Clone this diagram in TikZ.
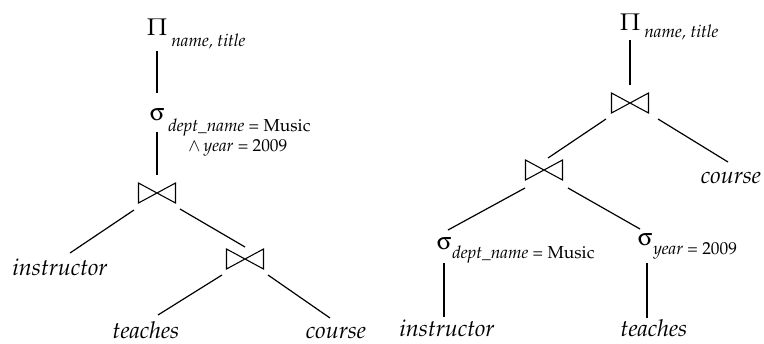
\documentclass[tikz,border=0pt]{standalone}
\usepackage[T1]{fontenc}
\usepackage{mathpazo}
\usepackage{pifont}
\newcommand{\usig}{\Pisymbol{psy}{115}}
\begin{document}
\begin{tikzpicture}[x=0.75pt,y=-0.75pt,
  edge/.style={line width=0.9pt},
  bowtie/.style={line width=0.8pt, line join=miter},
  joinnode/.style={minimum width=27.75pt, minimum height=15pt, inner sep=0pt, outer sep=0pt},
  rel/.style={anchor=base, inner sep=0pt, font=\fontsize{17.5}{20}\selectfont\itshape},
  sym/.style={anchor=base, inner sep=0pt, font=\fontsize{18}{20}\selectfont},
  sub/.style={anchor=base west, inner sep=0pt, align=left, font=\fontsize{13}{15}\selectfont}]
\useasboundingbox (0,0) rectangle (764,343);
% ---------- left tree ----------
\node[sym] (P1) at (157,35) {$\Pi$};
\node[sub] (P1s) at (171,46) {\textit{name, title}};
\node[sym] (S1) at (157,120) {\usig};
\node[sub] (S1s) at (168,151) {\textit{dept\_name} = Music\\\hspace*{15pt}$\wedge$\,\textit{year} = 2009};
\node[joinnode] (J1) at (157,193) {};
\node[rel] (I1) at (60,275) {instructor};
\node[joinnode] (J2) at (245,259) {};
\node[rel] (T1) at (146,338) {teaches};
\node[rel] (C1) at (336,338) {course};
% ---------- right tree ----------
\node[sym] (P2) at (630,30) {$\Pi$};
\node[sub] (P2s) at (644,37) {\textit{name, title}};
\node[joinnode] (J3) at (630,103) {};
\node[rel] (C2) at (731,183) {course};
\node[joinnode] (J4) at (544,170) {};
\node[sym] (S2) at (444,249) {\usig};
\node[sub] (S2s) at (452,258) {\textit{dept\_name} = Music};
\node[sym] (S3) at (645,245) {\usig};
\node[sub] (S3s) at (653,254) {\textit{year} = 2009};
\node[rel] (I2) at (447,336) {instructor};
\node[rel] (T2) at (654,336) {teaches};
% ---------- join symbols ----------
\foreach \j in {J1,J2,J3,J4}
  \draw[bowtie] (\j.south west) -- (\j.north west) -- (\j.south east) -- (\j.north east) -- cycle;
% ---------- edges ----------
\draw[edge] ([shift={(0,16)}]P1.base) -- ([shift={(0,-27)}]S1.base);
\draw[edge] ([shift={(0,12)}]S1.base) -- ([shift={(0,-18)}]J1.center);
\draw[edge] ([shift={(-4.5,7)}]J1.south west) -- ([shift={(10,-22)}]I1.base);
\draw[edge] ([shift={(4.5,6)}]J1.south east) -- ([shift={(0,-2)}]J2.north);
\draw[edge] ([shift={(-4.5,6)}]J2.south west) -- ([shift={(12,-23)}]T1.base);
\draw[edge] ([shift={(4.5,6)}]J2.south east) -- ([shift={(-6,-20)}]C1.base);
\draw[edge] ([shift={(0,10)}]P2.base) -- ([shift={(0,-8)}]J3.north);
\draw[edge] ([shift={(-5.5,6)}]J3.south west) -- ([shift={(4,-2)}]J4.north);
\draw[edge] ([shift={(9.5,6)}]J3.south east) -- ([shift={(-3,-21)}]C2.base);
\draw[edge] ([shift={(-0.5,8)}]J4.south west) -- ([shift={(4,-19)}]S2.base);
\draw[edge] ([shift={(5.5,8)}]J4.south east) -- ([shift={(-5,-16)}]S3.base);
\draw[edge] ([shift={(0,14)}]S2.base) -- ([shift={(-3,-19)}]I2.base);
\draw[edge] ([shift={(2,18)}]S3.base) -- ([shift={(-7,-18)}]T2.base);
\end{tikzpicture}
\end{document}
